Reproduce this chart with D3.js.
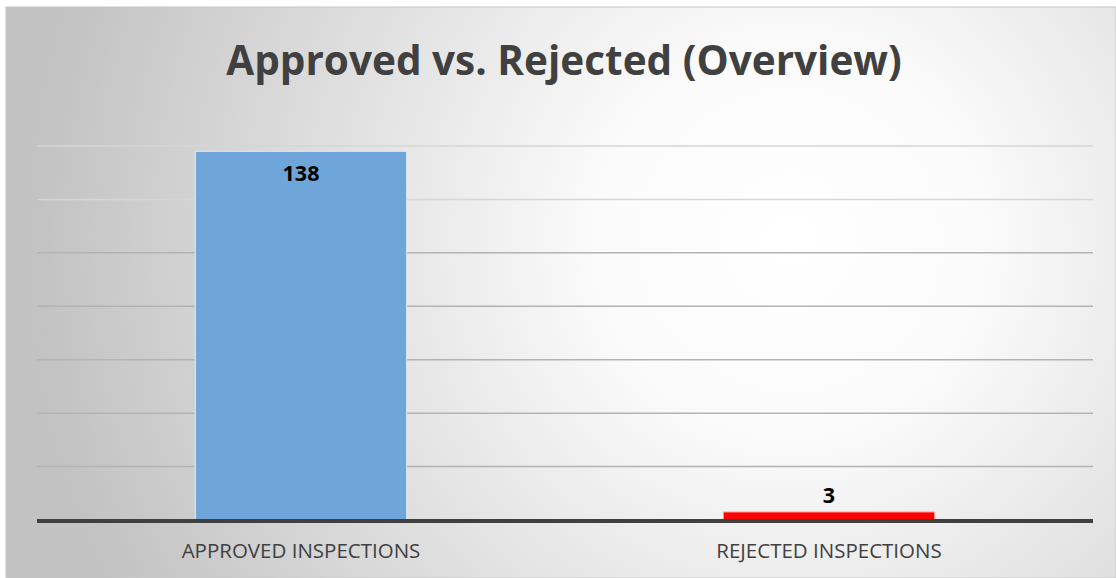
<!DOCTYPE html>
<html lang="en">
  <head>
    <meta charset="utf-8" />
    <title>Approved vs. Rejected (Overview)</title>
    <style>
      body { margin: 0; background: #ffffff; }
      svg { display: block; }
    </style>
  </head>
  <body>
    <div id="chart"></div>
    <script src="https://d3js.org/d3.v7.min.js"></script>
    <script>
      // chart data
      const categories = ["APPROVED INSPECTIONS", "REJECTED INSPECTIONS"];
      const counts = [138, 3];
      const barColors = ["#6fa6da", "#ff0000"];
      const gridTicks = [0, 20, 40, 60, 80, 100, 120, 140];

      const width = 1116, height = 578;
      const plot = { left: 37, right: 1093, top: 146, bottom: 520 };

      const svg = d3.select("#chart").append("svg")
        .attr("width", width)
        .attr("height", height);

      // background gradient
      const defs = svg.append("defs");
      const grad = defs.append("radialGradient")
        .attr("id", "bg")
        .attr("gradientUnits", "userSpaceOnUse")
        .attr("cx", 790).attr("cy", 240).attr("r", 760);
      grad.append("stop").attr("offset", "0%").attr("stop-color", "#ffffff");
      grad.append("stop").attr("offset", "25%").attr("stop-color", "#fbfbfb");
      grad.append("stop").attr("offset", "100%").attr("stop-color", "#c2c2c2");

      svg.append("rect")
        .attr("x", 6).attr("y", 7)
        .attr("width", width - 6).attr("height", height - 7)
        .attr("fill", "url(#bg)")
        .attr("stroke", "#c8c8c8")
        .attr("stroke-width", 1);

      const x = d3.scaleBand()
        .domain(categories)
        .range([plot.left, plot.right])
        .paddingInner(0.6)
        .paddingOuter(0.3);

      const y = d3.scaleLinear()
        .domain([0, 140])
        .range([plot.bottom, plot.top]);

      // gridlines
      svg.append("g")
        .selectAll("line")
        .data(gridTicks.filter(d => d > 0))
        .join("line")
        .attr("x1", plot.left)
        .attr("x2", plot.right)
        .attr("y1", d => y(d))
        .attr("y2", d => y(d))
        .attr("stroke", d => d >= 120 ? "#d6d6d6" : "#b3b3b3")
        .attr("stroke-width", 1.5);

      // bars
      svg.append("g")
        .selectAll("rect")
        .data(counts)
        .join("rect")
        .attr("x", (d, i) => x(categories[i]))
        .attr("y", d => y(d))
        .attr("width", x.bandwidth())
        .attr("height", d => y(0) - y(d))
        .attr("fill", (d, i) => barColors[i])
        .attr("stroke", (d, i) => i === 0 ? "#dce9f6" : "#ff9a9a")
        .attr("stroke-width", 1);

      // axis line
      svg.append("line")
        .attr("x1", plot.left).attr("x2", plot.right)
        .attr("y1", y(0) + 1).attr("y2", y(0) + 1)
        .attr("stroke", "#404040")
        .attr("stroke-width", 4);

      // data labels
      svg.append("g")
        .selectAll("text")
        .data(counts)
        .join("text")
        .attr("x", (d, i) => x(categories[i]) + x.bandwidth() / 2)
        .attr("y", d => d > 20 ? y(d) + 30 : y(d) - 9)
        .attr("text-anchor", "middle")
        .attr("font-family", "'Open Sans', sans-serif")
        .attr("font-weight", "bold")
        .attr("font-size", 21.5)
        .attr("fill", "#000000")
        .text(d => d);

      // category labels
      svg.append("g")
        .selectAll("text")
        .data(categories)
        .join("text")
        .attr("x", d => x(d) + x.bandwidth() / 2)
        .attr("y", 558)
        .attr("text-anchor", "middle")
        .attr("font-family", "'Open Sans', sans-serif")
        .attr("font-size", 20.5)
        .attr("fill", "#404040")
        .text(d => d);

      // title
      svg.append("text")
        .attr("x", 564)
        .attr("y", 75)
        .attr("text-anchor", "middle")
        .attr("font-family", "'Open Sans', sans-serif")
        .attr("font-weight", "bold")
        .attr("font-size", 40.5)
        .attr("fill", "#404040")
        .text("Approved vs. Rejected (Overview)");
    </script>
  </body>
</html>
